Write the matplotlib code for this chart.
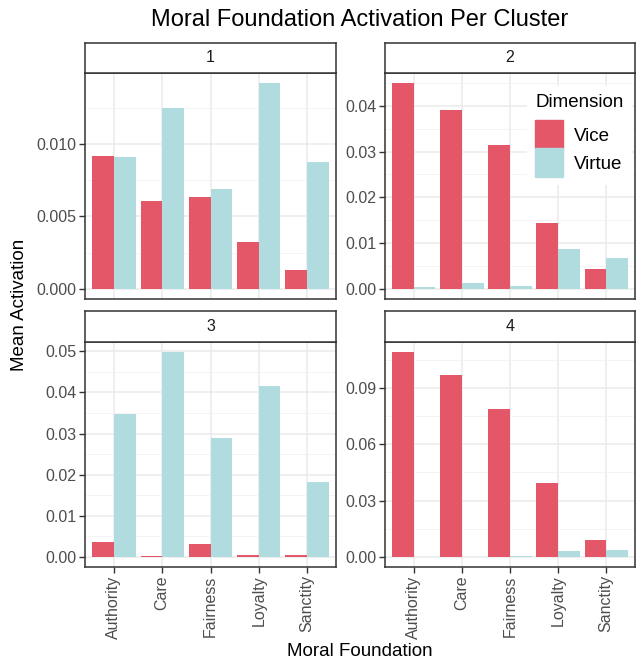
import numpy as np
from matplotlib import pyplot as plt
from matplotlib.patches import Patch
from matplotlib.ticker import MultipleLocator

plt.rcParams['font.family'] = ['Liberation Sans', 'DejaVu Sans']

foundations = ["Authority", "Care", "Fairness", "Loyalty", "Sanctity"]
clusters = ["1", "2", "3", "4"]

vice_1 = [0.00915, 0.00604, 0.00634, 0.00323, 0.00130]
virtue_1 = [0.00908, 0.01247, 0.00686, 0.01419, 0.00874]
vice_2 = [0.04495, 0.03900, 0.03155, 0.01447, 0.00440]
virtue_2 = [0.00030, 0.00130, 0.00050, 0.00880, 0.00680]
vice_3 = [0.00360, 0.00030, 0.00310, 0.00050, 0.00050]
virtue_3 = [0.03470, 0.04980, 0.02900, 0.04150, 0.01820]
vice_4 = [0.10920, 0.09700, 0.07890, 0.03950, 0.00920]
virtue_4 = [0.00010, 0.00010, 0.00030, 0.00320, 0.00370]

vice = [vice_1, vice_2, vice_3, vice_4]
virtue = [virtue_1, virtue_2, virtue_3, virtue_4]
major_steps = [0.005, 0.01, 0.01, 0.03]
tick_fmt = ["{:.3f}", "{:.2f}", "{:.2f}", "{:.2f}"]

VICE_COL = "#E35769"
VIRTUE_COL = "#B1DCDF"
W, H = 637, 664

fig = plt.figure(figsize=(W / 100, H / 100), dpi=100)

cols = [(85, 336), (385, 635)]
rows = [(43, 73, 299), (311, 342, 567)]


def frac(x0, x1, y0, y1):
    return [x0 / W, 1 - y1 / H, (x1 - x0) / W, (y1 - y0) / H]


xs = np.arange(len(foundations))
bw = 0.45
axes = []
for i, cl in enumerate(clusters):
    r, c = divmod(i, 2)
    x0, x1 = cols[c]
    s0, p0, p1 = rows[r]
    ax = fig.add_axes(frac(x0, x1, p0, p1))
    axes.append(ax)
    ax.bar(xs - bw / 2, vice[i], width=bw, color=VICE_COL, zorder=3)
    ax.bar(xs + bw / 2, virtue[i], width=bw, color=VIRTUE_COL, zorder=3)
    top = max(max(vice[i]), max(virtue[i]))
    ax.set_ylim(-0.05 * top, 1.05 * top)
    ax.set_xlim(-0.6, len(foundations) - 0.4)
    step = major_steps[i]
    ax.yaxis.set_minor_locator(MultipleLocator(step / 2))
    ticks = [t for t in np.arange(0, top * 1.05, step)]
    ax.set_yticks(ticks)
    ax.set_yticklabels([tick_fmt[i].format(t) for t in ticks])
    ax.set_xticks(xs)
    ax.grid(True, which="major", color="#EBEBEB", lw=1.1, zorder=0)
    ax.grid(True, which="minor", axis="y", color="#F2F2F2", lw=0.6, zorder=0)
    ax.set_axisbelow(True)
    ax.tick_params(which="minor", length=0)
    ax.tick_params(which="major", length=4, width=1, color="#333333",
                   labelcolor="#4D4D4D", labelsize=11.5, pad=2)
    if r == 1:
        ax.set_xticklabels(foundations, rotation=90)
    else:
        ax.set_xticklabels([])
        ax.tick_params(axis="x", which="major", length=0)
    for sp in ax.spines.values():
        sp.set_color("#333333")
        sp.set_linewidth(1.1)
    # facet strip
    sax = fig.add_axes(frac(x0, x1, s0, p0))
    sax.set_xticks([])
    sax.set_yticks([])
    for sp in sax.spines.values():
        sp.set_color("#333333")
        sp.set_linewidth(1.1)
    sax.text(0.5, 0.5, cl, ha="center", va="center", fontsize=11.5,
             color="#1A1A1A", transform=sax.transAxes)

handles = [Patch(color=VICE_COL, label="Vice"), Patch(color=VIRTUE_COL, label="Virtue")]
leg = axes[1].legend(handles=handles, title="Dimension", loc="upper right",
                     bbox_to_anchor=(1.0, 0.955), fontsize=13.5, title_fontsize=13.5,
                     frameon=True, fancybox=False, edgecolor="none", framealpha=1,
                     handlelength=1.45, handleheight=1.95, handletextpad=0.6,
                     labelspacing=-0.02, borderpad=0.45, borderaxespad=0.15)
leg._legend_box.align = "left"
leg._legend_box.sep = 6.5

fig.text(360 / W, 1 - 20 / H, "Moral Foundation Activation Per Cluster",
         ha="center", va="center", fontsize=17)
fig.text(360 / W, 1 - 652 / H, "Moral Foundation", ha="center", va="center", fontsize=13.5)
fig.text(20 / W, 1 - 305 / H, "Mean Activation", ha="center", va="center",
         rotation=90, fontsize=13.5)

fig.savefig("out.png", dpi=100)
